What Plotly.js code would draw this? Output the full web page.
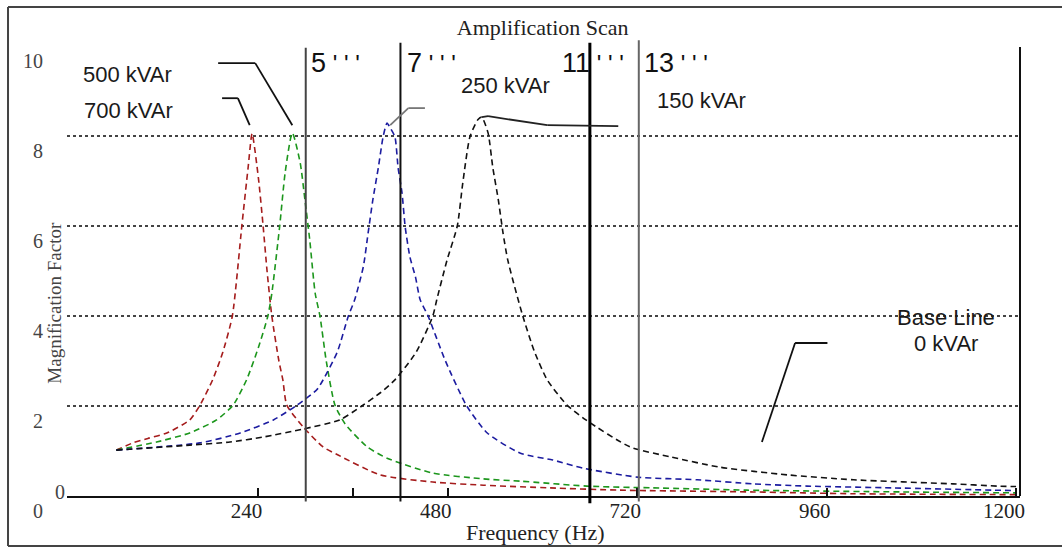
<!DOCTYPE html>
<html>
<head>
<meta charset="utf-8">
<script src="https://cdn.plot.ly/plotly-3.0.1.min.js"></script>
<style>html,body{margin:0;padding:0;background:#fff;}#chart{width:1062px;height:553px;}</style>
</head>
<body>
<div id="chart"></div>
<script>
// ---- data ----
const redFreq = [60, 81, 100, 124, 153, 166, 182, 195, 207, 219, 227, 232, 240, 246, 251, 257, 266, 271, 276, 297, 322, 341, 394, 461, 525, 610, 698, 867, 994, 1200];
const redMag  = [1.02, 1.18, 1.28, 1.40, 1.69, 2.02, 2.58, 3.2, 4.0, 6.0, 7.3, 8.05, 7.07, 6.0, 5.0, 4.0, 3.0, 2.58, 2.02, 1.53, 1.09, 0.91, 0.47, 0.31, 0.24, 0.18, 0.13, 0.09, 0.05, 0.03];

const greenFreq = [60, 111, 153, 187, 208, 225, 240, 252, 257, 267, 274, 283, 293, 299, 305, 312, 318, 326, 337, 350, 378, 403, 461, 525, 572, 656, 740, 859, 1057, 1200];
const greenMag  = [1.02, 1.2, 1.4, 1.69, 2.02, 2.58, 3.3, 4.0, 4.5, 6.0, 7.2, 8.07, 7.4, 6.58, 5.7, 4.5, 4.0, 3.0, 2.02, 1.6, 1.09, 0.84, 0.51, 0.38, 0.33, 0.22, 0.18, 0.13, 0.09, 0.07];

const blueFreq = [60, 166, 217, 259, 289, 314, 322, 340, 354, 362, 373, 379, 385, 392, 398, 403, 407, 413, 417, 422, 426, 432, 439, 445, 455, 477, 504, 530, 572, 613, 651, 720, 796, 867, 935, 1044, 1171, 1200];
const blueMag  = [1.02, 1.18, 1.4, 1.69, 2.02, 2.36, 2.58, 3.2, 4.0, 4.36, 5.1, 5.84, 6.58, 7.3, 7.98, 8.29, 8.18, 7.98, 7.3, 6.73, 5.98, 5.31, 4.87, 4.36, 4.0, 3.0, 2.0, 1.4, 0.95, 0.8, 0.62, 0.42, 0.36, 0.27, 0.22, 0.18, 0.13, 0.12];

const blackFreq = [60, 153, 204, 246, 297, 343, 371, 395, 413, 440, 461, 466, 479, 492, 499, 508, 518, 523, 531, 537, 544, 550, 556, 575, 590, 606, 631, 655, 711, 762, 825, 910, 994, 1120, 1176, 1200];
const blackMag  = [1.02, 1.13, 1.2, 1.31, 1.49, 1.69, 2.0, 2.3, 2.58, 3.2, 4.0, 4.36, 5.24, 6.0, 6.96, 7.98, 8.36, 8.42, 8.07, 7.3, 6.58, 5.84, 5.24, 4.0, 3.2, 2.58, 2.02, 1.69, 1.09, 0.87, 0.64, 0.47, 0.36, 0.27, 0.22, 0.21];

const harmonicFreq   = [300, 420, 660, 722];
const harmonicLabels = ["5", "7", "11", "13"];

const xTickVals  = [240, 480, 720, 960, 1200];
const xTickText  = ["240", "480", "720", "960", "1200"];
const xMinorTickVals = [360];
const yTickVals  = [0, 2, 4, 6, 8, 10];
const yTickText  = ["0", "2", "4", "6", "8", "10"];

const seriesNames  = ["700 kVAr", "500 kVAr", "250 kVAr", "150 kVAr"];
const seriesColors = ["#a51c1c", "#1c961c", "#1c1ca0", "#111111"];

// ---- traces ----
const xs = [redFreq, greenFreq, blueFreq, blackFreq];
const ys = [redMag, greenMag, blueMag, blackMag];
const traces = xs.map((x, i) => ({
  x: x, y: ys[i], type: 'scatter', mode: 'lines', name: seriesNames[i],
  line: {color: seriesColors[i], width: 1.6, dash: '6px,4px', shape: 'spline', smoothing: 0.6},
  hoverinfo: 'x+y+name'
}));

// ---- shapes ----
const harmonicStyle = [
  {color: '#444', width: 2, y0: -0.012, y1: 0.996},
  {color: '#111', width: 2, y0: -0.012, y1: 1.007},
  {color: '#000', width: 3, y0: -0.016, y1: 1.007},
  {color: '#666', width: 2, y0: -0.012, y1: 1.013}
];
const shapes = harmonicFreq.map((f, i) => ({
  type: 'line', xref: 'x', yref: 'paper', x0: f, x1: f,
  y0: harmonicStyle[i].y0, y1: harmonicStyle[i].y1,
  line: {color: harmonicStyle[i].color, width: harmonicStyle[i].width}
}));
// right border of the plot
shapes.push({type: 'line', xref: 'paper', yref: 'paper', x0: 1, x1: 1, y0: 0, y1: 0.998, line: {color: '#111', width: 2}});
// outer frame (top, left, bottom)
shapes.push({type: 'line', xref: 'paper', yref: 'paper', x0: -0.0619, x1: 1.05, y0: 1.0867, y1: 1.0867, line: {color: '#444', width: 2}});
shapes.push({type: 'line', xref: 'paper', yref: 'paper', x0: -0.0619, x1: -0.0619, y0: 1.0867, y1: -0.111, line: {color: '#444', width: 2}});
shapes.push({type: 'line', xref: 'paper', yref: 'paper', x0: -0.0619, x1: 1.05, y0: -0.111, y1: -0.111, line: {color: '#444', width: 2}});

// pointer lines for the labels
const pointer500 = {x: [189, 236, 283], y: [9.62, 9.62, 8.24]};
const pointer700 = {x: [194, 214, 229], y: [8.84, 8.84, 8.24]};
const pointer250 = {x: [451, 430, 407], y: [8.62, 8.62, 8.24]};
const pointer150 = {x: [523, 531, 606, 696], y: [8.42, 8.44, 8.24, 8.22]};
const pointerBase = {x: [961, 920, 878], y: [3.4, 3.4, 1.2]};
const pointers = [pointer500, pointer700, pointer250, pointer150, pointerBase];
const pointerColors = ['#111', '#111', '#777', '#222', '#111'];
pointers.forEach((p, k) => {
  for (let i = 0; i < p.x.length - 1; i++) {
    shapes.push({type: 'line', xref: 'x', yref: 'y', x0: p.x[i], x1: p.x[i + 1], y0: p.y[i], y1: p.y[i + 1],
      line: {color: pointerColors[k], width: 1.8}});
  }
});

// ---- annotations ----
const sans = 'Liberation Sans, Arial, sans-serif';
const serif = 'Liberation Serif, Times New Roman, serif';
const annotations = [];
const harmonicLabelX = [304, 426, 622, 726];
harmonicLabels.forEach((h, i) => {
  annotations.push({x: harmonicLabelX[i], y: 9.62, xref: 'x', yref: 'y', xanchor: 'left', yanchor: 'middle',
    text: h + "<span style='font-size:24px'> ' ' '</span>", showarrow: false,
    font: {family: sans, size: 27, color: '#111'}});
});
const kvarLabels = [
  {text: '500 kVAr', x: 74, y: 9.36},
  {text: '700 kVAr', x: 76, y: 8.56},
  {text: '250 kVAr', x: 553, y: 9.13},
  {text: '150 kVAr', x: 802, y: 8.78},
  {text: 'Base Line', x: 1111, y: 3.96},
  {text: '0 kVAr', x: 1111, y: 3.38}
];
kvarLabels.forEach(l => annotations.push({x: l.x, y: l.y, xref: 'x', yref: 'y', xanchor: 'center', yanchor: 'middle',
  text: l.text, showarrow: false, font: {family: sans, size: 22, color: '#1a1a1a'}}));
// axis titles
annotations.push({x: 0.492, y: -0.082, xref: 'paper', yref: 'paper', xanchor: 'center', yanchor: 'middle',
  text: 'Frequency (Hz)', showarrow: false, font: {family: serif, size: 22, color: '#222'}});
annotations.push({x: -0.0135, y: 0.43, xref: 'paper', yref: 'paper', xanchor: 'center', yanchor: 'middle', textangle: -90,
  text: 'Magnification Factor', showarrow: false, font: {family: serif, size: 19, color: '#444'}});
annotations.push({x: -0.0073, y: 0.009, xref: 'paper', yref: 'paper', xanchor: 'center', yanchor: 'middle',
  text: '0', showarrow: false, font: {family: serif, size: 20, color: '#444'}});

const layout = {
  width: 1062, height: 553,
  margin: {l: 67, r: 42, t: 46, b: 57},
  paper_bgcolor: '#fff', plot_bgcolor: '#fff',
  showlegend: false,
  title: {text: 'Amplification Scan', x: 0.511, xanchor: 'center', y: 0.951, yanchor: 'middle', yref: 'container',
    font: {family: serif, size: 22, color: '#222'}},
  xaxis: {
    range: [-2.5, 1205], showline: true, linecolor: '#111', linewidth: 2,
    ticks: 'inside', ticklen: 8, tickwidth: 2, tickcolor: '#111',
    tickmode: 'array', tickvals: xTickVals, ticktext: xTickText,
    minor: {tickmode: 'array', tickvals: xMinorTickVals, ticks: 'inside', ticklen: 8, tickwidth: 2, tickcolor: '#111', showgrid: false},
    tickfont: {family: serif, size: 21, color: '#222'},
    ticklabelshift: -12, ticklabelstandoff: -5,
    showgrid: false, zeroline: false
  },
  yaxis: {
    range: [0, 10], showline: false, ticks: '',
    tickmode: 'array', tickvals: yTickVals, ticktext: yTickText,
    tickfont: {family: serif, size: 20, color: '#444'},
    ticklabelshift: 15, ticklabelstandoff: 23,
    showgrid: true, gridcolor: '#444', gridwidth: 1.5, griddash: 'dot',
    zeroline: false
  },
  shapes: shapes,
  annotations: annotations
};

Plotly.newPlot('chart', traces, layout, {displayModeBar: false, staticPlot: true});
</script>
</body>
</html>
